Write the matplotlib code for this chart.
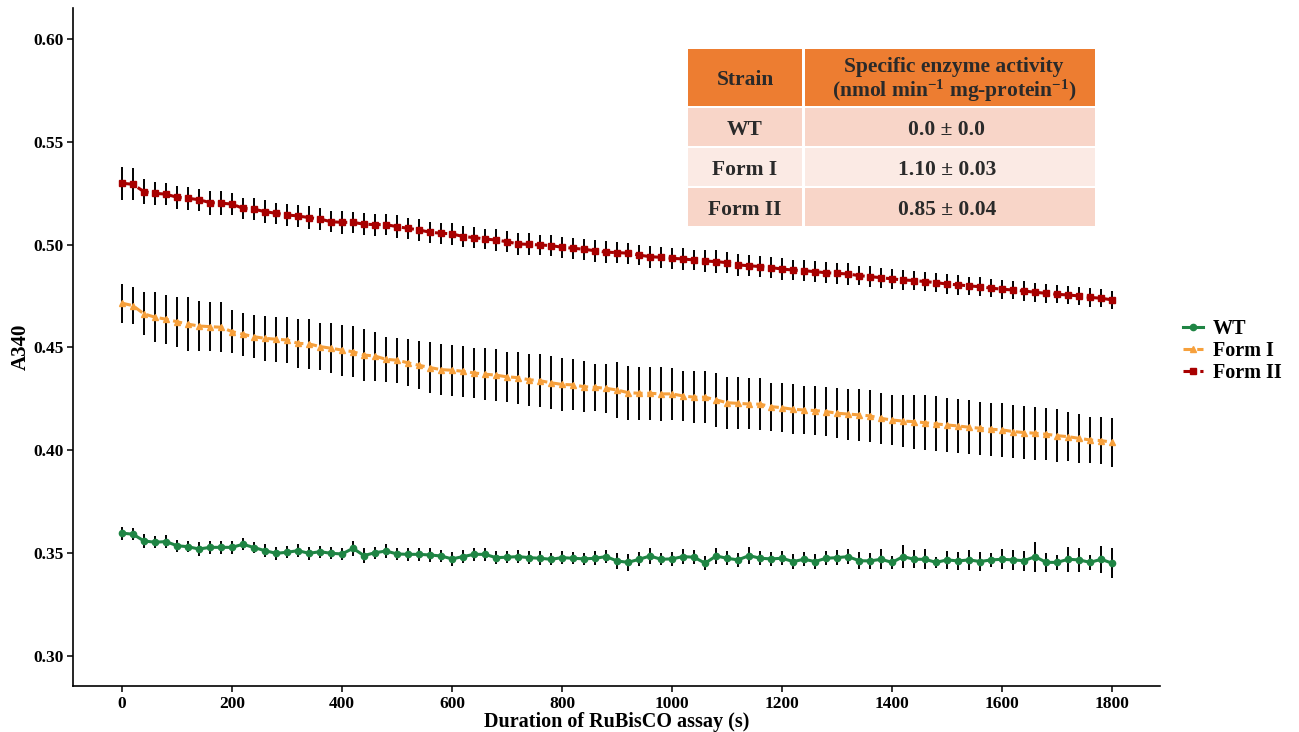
import matplotlib.pyplot as plt
from matplotlib.patches import Rectangle

# sampling times (s)
time_s = list(range(0, 1801, 20))

# A340 means
wt = [0.3597, 0.3592, 0.3559, 0.3553, 0.3556, 0.3536, 0.3531, 0.3520, 0.3528, 0.3528,
      0.3528, 0.3543, 0.3527, 0.3512, 0.3499, 0.3504, 0.3512, 0.3499, 0.3507, 0.3499,
      0.3496, 0.3523, 0.3488, 0.3502, 0.3510, 0.3496, 0.3494, 0.3494, 0.3491, 0.3486,
      0.3472, 0.3483, 0.3494, 0.3494, 0.3478, 0.3480, 0.3483, 0.3478, 0.3475, 0.3470,
      0.3478, 0.3475, 0.3472, 0.3475, 0.3483, 0.3462, 0.3455, 0.3470, 0.3486, 0.3470,
      0.3472, 0.3483, 0.3480, 0.3451, 0.3486, 0.3475, 0.3467, 0.3488, 0.3475, 0.3472,
      0.3475, 0.3459, 0.3470, 0.3459, 0.3475, 0.3478, 0.3483, 0.3463, 0.3462, 0.3470,
      0.3455, 0.3483, 0.3470, 0.3470, 0.3455, 0.3467, 0.3462, 0.3467, 0.3459, 0.3467,
      0.3470, 0.3467, 0.3463, 0.3483, 0.3455, 0.3455, 0.3470, 0.3467, 0.3455, 0.3470,
      0.3451]
wt_err = [0.0032, 0.0030, 0.0033, 0.0030, 0.0030, 0.0030, 0.0028, 0.0033, 0.0030, 0.0030,
          0.0030, 0.0030, 0.0028, 0.0030, 0.0033, 0.0030, 0.0030, 0.0033, 0.0030, 0.0030,
          0.0030, 0.0038, 0.0035, 0.0030, 0.0033, 0.0030, 0.0030, 0.0030, 0.0033, 0.0030,
          0.0035, 0.0033, 0.0030, 0.0030, 0.0033, 0.0030, 0.0030, 0.0030, 0.0033, 0.0030,
          0.0033, 0.0030, 0.0030, 0.0033, 0.0030, 0.0040, 0.0040, 0.0033, 0.0040, 0.0030,
          0.0033, 0.0038, 0.0033, 0.0035, 0.0040, 0.0033, 0.0033, 0.0040, 0.0035, 0.0033,
          0.0033, 0.0035, 0.0033, 0.0035, 0.0033, 0.0035, 0.0035, 0.0040, 0.0038, 0.0049,
          0.0030, 0.0057, 0.0043, 0.0048, 0.0025, 0.0045, 0.0043, 0.0047, 0.0045, 0.0035,
          0.0049, 0.0049, 0.0048, 0.0073, 0.0045, 0.0036, 0.0060, 0.0057, 0.0035, 0.0066,
          0.0073]

form1 = [0.4715, 0.4703, 0.4663, 0.4647, 0.4637, 0.4625, 0.4613, 0.4604, 0.4601, 0.4598,
         0.4577, 0.4564, 0.4552, 0.4544, 0.4540, 0.4536, 0.4520, 0.4517, 0.4504, 0.4496,
         0.4487, 0.4479, 0.4463, 0.4458, 0.4442, 0.4438, 0.4425, 0.4413, 0.4402, 0.4392,
         0.4389, 0.4384, 0.4376, 0.4370, 0.4365, 0.4357, 0.4353, 0.4343, 0.4338, 0.4328,
         0.4320, 0.4318, 0.4309, 0.4306, 0.4301, 0.4293, 0.4280, 0.4277, 0.4277, 0.4274,
         0.4274, 0.4264, 0.4258, 0.4258, 0.4245, 0.4231, 0.4228, 0.4225, 0.4224, 0.4212,
         0.4207, 0.4199, 0.4196, 0.4193, 0.4188, 0.4180, 0.4176, 0.4172, 0.4167, 0.4155,
         0.4147, 0.4142, 0.4139, 0.4134, 0.4128, 0.4123, 0.4118, 0.4112, 0.4107, 0.4102,
         0.4099, 0.4091, 0.4086, 0.4083, 0.4078, 0.4071, 0.4066, 0.4058, 0.4050, 0.4047,
         0.4039]
form1_err = [0.0095, 0.0090, 0.0104, 0.0122, 0.0118, 0.0122, 0.0130, 0.0122, 0.0119, 0.0122,
             0.0105, 0.0105, 0.0105, 0.0111, 0.0110, 0.0112, 0.0119, 0.0120, 0.0116, 0.0122,
             0.0124, 0.0123, 0.0125, 0.0119, 0.0111, 0.0109, 0.0115, 0.0116, 0.0122, 0.0123,
             0.0123, 0.0124, 0.0123, 0.0126, 0.0127, 0.0122, 0.0126, 0.0126, 0.0128, 0.0128,
             0.0128, 0.0124, 0.0123, 0.0115, 0.0118, 0.0136, 0.0131, 0.0130, 0.0130, 0.0130,
             0.0128, 0.0123, 0.0126, 0.0127, 0.0131, 0.0126, 0.0127, 0.0124, 0.0127, 0.0117,
             0.0119, 0.0121, 0.0118, 0.0117, 0.0119, 0.0122, 0.0124, 0.0125, 0.0127, 0.0124,
             0.0123, 0.0126, 0.0131, 0.0134, 0.0134, 0.0132, 0.0132, 0.0132, 0.0130, 0.0128,
             0.0130, 0.0130, 0.0128, 0.0129, 0.0126, 0.0128, 0.0120, 0.0118, 0.0113, 0.0113,
             0.0120]

form2 = [0.5298, 0.5293, 0.5257, 0.5249, 0.5245, 0.5230, 0.5225, 0.5218, 0.5204, 0.5201,
         0.5197, 0.5176, 0.5172, 0.5160, 0.5152, 0.5144, 0.5139, 0.5131, 0.5124, 0.5111,
         0.5108, 0.5108, 0.5099, 0.5097, 0.5097, 0.5087, 0.5079, 0.5071, 0.5060, 0.5055,
         0.5052, 0.5039, 0.5034, 0.5027, 0.5022, 0.5014, 0.5003, 0.5001, 0.4998, 0.4995,
         0.4987, 0.4982, 0.4977, 0.4970, 0.4963, 0.4961, 0.4958, 0.4949, 0.4941, 0.4938,
         0.4933, 0.4930, 0.4925, 0.4920, 0.4917, 0.4912, 0.4901, 0.4897, 0.4893, 0.4888,
         0.4881, 0.4876, 0.4873, 0.4868, 0.4863, 0.4860, 0.4857, 0.4849, 0.4844, 0.4839,
         0.4833, 0.4828, 0.4825, 0.4820, 0.4815, 0.4808, 0.4804, 0.4799, 0.4795, 0.4788,
         0.4783, 0.4779, 0.4774, 0.4768, 0.4763, 0.4758, 0.4755, 0.4750, 0.4743, 0.4739,
         0.4731]
form2_err = [0.0080, 0.0078, 0.0062, 0.0055, 0.0053, 0.0055, 0.0055, 0.0053, 0.0058, 0.0057,
             0.0055, 0.0050, 0.0053, 0.0055, 0.0050, 0.0053, 0.0055, 0.0055, 0.0052, 0.0050,
             0.0055, 0.0050, 0.0052, 0.0053, 0.0050, 0.0055, 0.0052, 0.0053, 0.0050, 0.0050,
             0.0052, 0.0050, 0.0053, 0.0050, 0.0052, 0.0050, 0.0052, 0.0053, 0.0050, 0.0052,
             0.0050, 0.0052, 0.0050, 0.0053, 0.0052, 0.0050, 0.0052, 0.0050, 0.0053, 0.0052,
             0.0050, 0.0052, 0.0050, 0.0052, 0.0055, 0.0052, 0.0053, 0.0050, 0.0052, 0.0050,
             0.0052, 0.0050, 0.0050, 0.0052, 0.0050, 0.0050, 0.0052, 0.0048, 0.0050, 0.0048,
             0.0050, 0.0048, 0.0047, 0.0048, 0.0047, 0.0048, 0.0047, 0.0045, 0.0047, 0.0045,
             0.0047, 0.0045, 0.0047, 0.0045, 0.0045, 0.0044, 0.0045, 0.0044, 0.0045, 0.0044,
             0.0044]

# inset table
strains = ["WT", "Form I", "Form II"]
activity = ["0.0 ± 0.0", "1.10 ± 0.03", "0.85 ± 0.04"]

xticks = [0, 200, 400, 600, 800, 1000, 1200, 1400, 1600, 1800]
yticks = [0.30, 0.35, 0.40, 0.45, 0.50, 0.55, 0.60]

plt.rcParams['font.family'] = ['Liberation Serif', 'DejaVu Serif']
plt.rcParams['font.weight'] = 'bold'
plt.rcParams['mathtext.default'] = 'regular'

W, H = 1299, 732
fig = plt.figure(figsize=(W / 100, H / 100), dpi=100)
ax = fig.add_axes([73 / W, 1 - 686 / H, (1160 - 73) / W, (686 - 8) / H])

series = [
    ("WT", wt, wt_err, "#1F8544", "o", "-", 4.5),
    ("Form I", form1, form1_err, "#F6A03C", "^", (0, (3, 1.5)), 5),
    ("Form II", form2, form2_err, "#A80000", "s", (0, (4, 1.5)), 5),
]
for name, y, e, col, mk, ls, ms in series:
    ax.errorbar(time_s, y, yerr=e, fmt='none', ecolor='black', elinewidth=1.4,
                capsize=0, zorder=2)
    ax.plot(time_s, y, color=col, marker=mk, linestyle=ls, linewidth=2.2,
            markersize=ms, label=name, zorder=3)

ax.set_xlim(-89, 1887)
ax.set_ylim(0.2854, 0.615)
ax.set_xticks(xticks)
ax.set_yticks(yticks)
ax.set_yticklabels(["%.2f" % v for v in yticks])
ax.tick_params(labelsize=12.5, width=1.1, length=4, colors='black', pad=3)
for s in ['top', 'right']:
    ax.spines[s].set_visible(False)
for s in ['left', 'bottom']:
    ax.spines[s].set_linewidth(1.2)
ax.set_xlabel("Duration of RuBisCO assay (s)", fontsize=14.5, fontweight='bold', labelpad=0)
ax.set_ylabel("A340", fontsize=15, fontweight='bold')
ax.yaxis.set_label_coords(-0.039, 0.5)

fig.legend(loc='center left', bbox_to_anchor=(1183 / W, 1 - 351 / H), frameon=False,
           fontsize=14.5, handlelength=1.0, handletextpad=0.5, labelspacing=0.12,
           borderpad=0, borderaxespad=0)

# table drawn in pixel-like units
tax = fig.add_axes([688 / W, 1 - 226 / H, 407 / W, 177 / H])
tax.set_xlim(0, 407)
tax.set_ylim(177, 0)
tax.axis('off')
txt = "#2a2a2a"
fs = 15.5
tax.add_patch(Rectangle((0, 0), 114, 57, color="#ED7D31", lw=0))
tax.add_patch(Rectangle((117, 0), 290, 57, color="#ED7D31", lw=0))
tax.text(57, 31, "Strain", ha='center', va='center', fontsize=fs, color=txt)
tax.text(266, 18, "Specific enzyme activity", ha='center', va='center', fontsize=fs, color=txt)
tax.text(266, 42, r"(nmol min$^{-1}$ mg-protein$^{-1}$)", ha='center', va='center',
         fontsize=fs, color=txt)
row_top = [59, 99, 139]
row_col = ["#F8D5C8", "#FBEAE4", "#F8D5C8"]
for i in range(3):
    tax.add_patch(Rectangle((0, row_top[i]), 114, 38, color=row_col[i], lw=0))
    tax.add_patch(Rectangle((117, row_top[i]), 290, 38, color=row_col[i], lw=0))
    tax.text(57, row_top[i] + 22, strains[i], ha='center', va='center', fontsize=fs, color=txt)
    tax.text(259, row_top[i] + 22, activity[i], ha='center', va='center', fontsize=fs, color=txt)

fig.savefig("out.png", dpi=100)
